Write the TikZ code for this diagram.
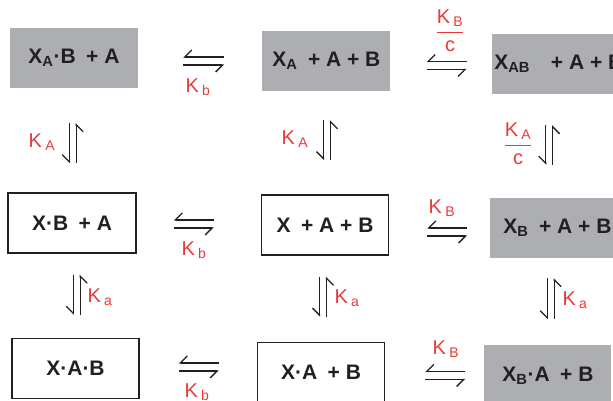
\documentclass[tikz,border=0pt]{standalone}
\usepackage{amsmath}
\usepackage{fontspec}
\setmainfont{Liberation Sans}
\usetikzlibrary{arrows.meta, positioning, calc}
\definecolor{boxgrey}{RGB}{173,174,178}
\definecolor{ratered}{RGB}{233,58,58}
\definecolor{inkblack}{RGB}{35,31,32}
\tikzset{
  species/.style  = {minimum width=128pt, minimum height=60pt, inner sep=0pt,
                     font=\fontsize{21}{24}\selectfont\bfseries, text=inkblack},
  freebox/.style  = {species, draw=inkblack, line width=1.5pt, fill=white},
  boundbox/.style = {species, fill=boxgrey},
  rate/.style     = {text=ratered, font=\fontsize{20}{23}\selectfont, inner sep=0pt},
  harp/.style     = {-{Straight Barb[right, length=7pt, width=14pt]}, line width=1.3pt, inkblack},
}
\newcommand{\Kr}[1]{K\,\textsubscript{#1}}
\newcommand{\Kc}[1]{$\genfrac{}{}{1pt}{0}{\mbox{\Kr{#1}}}{\mbox{c}}$}
% pair of harpoons: left node, right node, y offset, gap left, gap right
\newcommand{\eqlr}[5]{%
  \draw[harp, shorten <=#5pt, shorten >=#4pt] ($(#2.west)+(0,#3-4)$) -- ($(#2.west -| #1.east)+(0,#3-4)$);
  \draw[harp, shorten <=#4pt, shorten >=#5pt] ($(#2.west -| #1.east)+(0,#3+4)$) -- ($(#2.west)+(0,#3+4)$);}
% pair of harpoons: top node, bottom node, x offset, gap top, gap bottom
\newcommand{\eqtb}[5]{%
  \draw[harp, shorten <=#4pt, shorten >=#5pt] ($(#2.north |- #1.south)+(#3-3.5,0)$) -- ($(#2.north)+(#3-3.5,0)$);
  \draw[harp, shorten <=#5pt, shorten >=#4pt] ($(#2.north)+(#3+3.5,0)$) -- ($(#2.north |- #1.south)+(#3+3.5,0)$);}

\begin{document}
\begin{tikzpicture}[x=1pt, y=-1pt]
  \useasboundingbox (0,0) rectangle (613,400);
  % top row
  \node[boundbox] (xab) at (74,58) {X\textsubscript{A}·B\enspace+ A};
  \node[boundbox, right=124pt of xab, yshift=-3pt] (xaf) {X\textsubscript{A}\enspace+ A + B};
  \node[boundbox, right=101pt of xaf, yshift=-3pt, minimum width=134pt] (xtern) {X\textsubscript{AB}\enspace\enspace+ A + B};
  % middle row
  \node[freebox, below=104pt of xab, xshift=-2pt] (xb) {X·B\enspace+ A};
  \node[freebox, right=124pt of xb, yshift=-2pt, minimum width=127pt] (xfree) {X\enspace+ A + B};
  \node[boundbox, right=101pt of xfree, yshift=-3pt, minimum width=134pt] (xbf) {X\textsubscript{B}\enspace+ A + B};
  % bottom row
  \node[freebox, below=84pt of xb, xshift=3.5pt, minimum width=127pt] (xabc) {X·A·B};
  \node[freebox, right=117pt of xabc, yshift=-4pt, minimum width=127pt] (xa) {X·A\enspace+ B};
  \node[boundbox, right=99pt of xa, yshift=-3pt, minimum width=127pt] (xba) {X\textsubscript{B}·A\enspace+ B};

  \eqlr{xab}{xaf}{0}{45}{38}
  \eqlr{xaf}{xtern}{1.5}{36}{25}
  \eqlr{xb}{xfree}{-1}{37}{47}
  \eqlr{xfree}{xbf}{4}{38}{23}
  \eqlr{xabc}{xa}{-5.5}{39}{38}
  \eqlr{xa}{xba}{0}{40}{19}

  \eqtb{xab}{xb}{0.7}{35}{29}
  \eqtb{xaf}{xfree}{2}{29}{34}
  \eqtb{xtern}{xbf}{-8.3}{31}{33}
  \eqtb{xb}{xabc}{1.2}{21}{23}
  \eqtb{xfree}{xa}{2}{21}{25}
  \eqtb{xbf}{xba}{2.8}{20}{26}

  % rate constants
  \node[rate] (kb1) at (198,87) {\Kr{b}};
  \node[rate] (kbc) at (450,31) {\Kc{B}};
  \node[rate] (ka1) at (42,142) {\Kr{A}};
  \node[rate] (ka2) at (295,139) {\Kr{A}};
  \node[rate] (kac) at (518,144) {\Kc{A}};
  \node[rate] (kb2) at (194,250) {\Kr{b}};
  \node[rate] (kB1) at (442,208) {\Kr{B}};
  \node[rate] (ka3) at (100,297) {\Kr{a}};
  \node[rate] (ka4) at (347,298) {\Kr{a}};
  \node[rate] (ka5) at (575,300) {\Kr{a}};
  \node[rate] (kb3) at (197,392) {\Kr{b}};
  \node[rate] (kB2) at (446,349) {\Kr{B}};
\end{tikzpicture}
\end{document}
